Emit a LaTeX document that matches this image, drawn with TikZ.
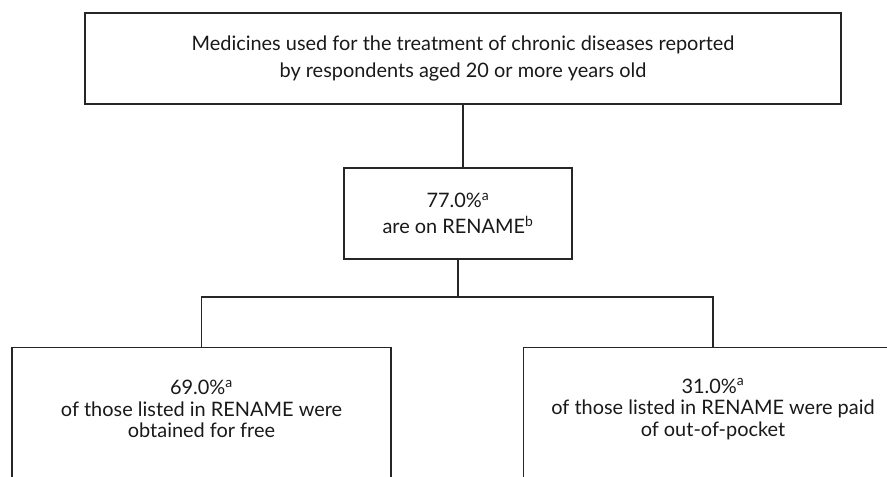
\documentclass[tikz,border=0pt]{standalone}
\usepackage{fontspec}
\setmainfont{Lato}
\begin{document}
\begin{tikzpicture}[x=1bp,y=-1bp,
  box/.style={draw=black!85, line width=1.3bp, rectangle, inner sep=0pt},
  txt/.style={align=center, font=\fontsize{20}{21.5}\selectfont, text=black!90, inner sep=0pt},
  conn/.style={draw=black!85, line width=1.3bp}]
\useasboundingbox (0,0) rectangle (887,477);
\clip (0,0) rectangle (887,477);
% top box
\node[box, minimum width=756bp, minimum height=91bp] (top) at (463,58.5) {};
\node[txt, font=\fontsize{20}{27}\selectfont] (toptxt) at (463,58.5) {Medicines used for the treatment of chronic diseases reported\\by respondents aged 20 or more years old};
% middle box
\node[box, minimum width=228bp, minimum height=91bp] (mid) at (458,213.5) {};
\node[txt, font=\fontsize{20}{26}\selectfont] (midtxt) at (458,213.5) {77.0\%\textsuperscript{a}\\are on RENAME\textsuperscript{b}};
% bottom boxes
\node[box, minimum width=379bp, minimum height=200bp, anchor=north] (left) at (201.5,347) {};
\node[txt] (lefttxt) at (201.5,409) {69.0\%\textsuperscript{a}\\of those listed in RENAME were\\obtained for free};
\node[box, minimum width=379bp, minimum height=200bp, anchor=north] (right) at (713,347) {};
\node[txt] (righttxt) at (713,409) {31.0\%\textsuperscript{a}\\of those listed in RENAME were paid\\of out-of-pocket};
% connectors
\draw[conn] (top.south -| 463,0) -- (mid.north -| 463,0);
\coordinate (split) at (458,297);
\draw[conn] (mid.south) -- (split);
\draw[conn] (left.north) |- (split) -| (right.north);
\end{tikzpicture}
\end{document}
